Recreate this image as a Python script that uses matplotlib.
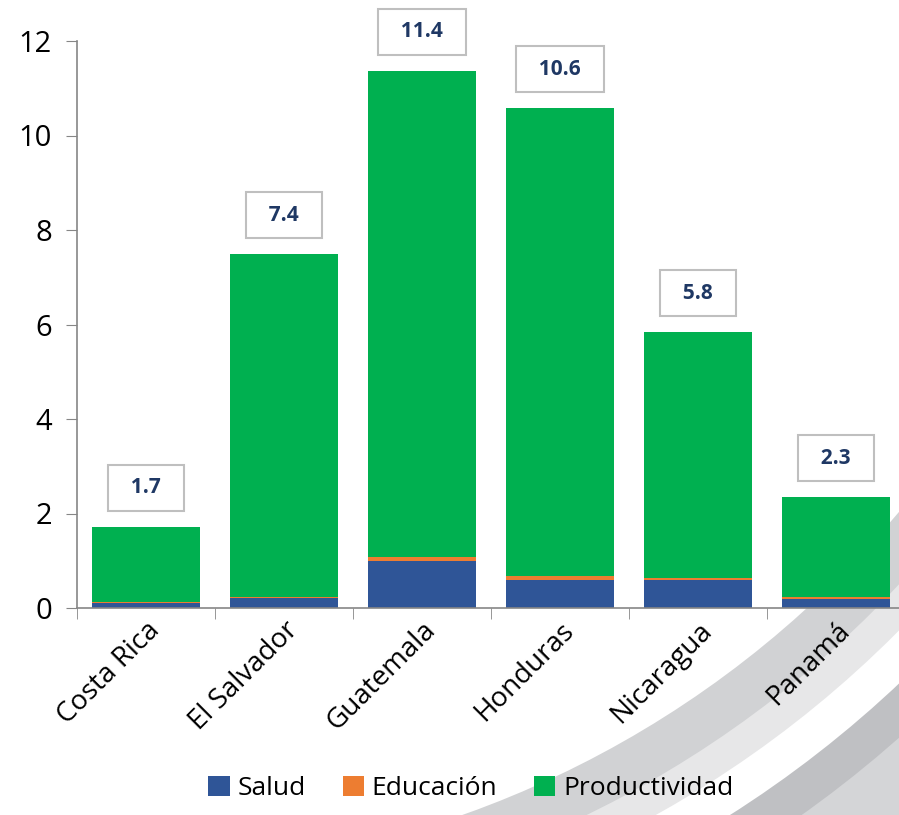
import matplotlib.pyplot as plt
from matplotlib.patches import Circle

# datos
paises = ["Costa Rica", "El Salvador", "Guatemala", "Honduras", "Nicaragua", "Panamá"]
salud = [0.10, 0.21, 1.00, 0.60, 0.60, 0.19]
educacion = [0.02, 0.02, 0.07, 0.07, 0.03, 0.04]
productividad = [1.60, 7.26, 10.30, 9.91, 5.21, 2.12]
etiquetas = ["1.7", "7.4", "11.4", "10.6", "5.8", "2.3"]

plt.rcParams['font.family'] = ['Open Sans', 'DejaVu Sans']

fig = plt.figure(figsize=(8.99, 8.15), dpi=100, facecolor="white")

# fondo decorativo (arcos grises abajo a la derecha)
bg = fig.add_axes([0, 0, 1, 1], zorder=-1)
bg.set_xlim(0, 899)
bg.set_ylim(815, 0)
bg.axis("off")
arcos = [(1400, "#D4D5D7"), (1168, "#BFC0C3"), (1128, "white"),
         (1090, "#E7E7E8"), (1058, "#D1D2D4"), (1010, "white")]
for i, (r, c) in enumerate(arcos):
    bg.add_patch(Circle((125, -137), r, color=c, lw=0, zorder=i))

ax = fig.add_axes([77 / 899, 207 / 815, 828 / 899, 567 / 815])
ax.set_facecolor("none")

x = range(len(paises))
ancho = 0.78
ax.bar(x, salud, ancho, color="#2F5597", label="Salud")
base = [s for s in salud]
ax.bar(x, educacion, ancho, bottom=base, color="#ED7D31", label="Educación")
base = [s + e for s, e in zip(salud, educacion)]
ax.bar(x, productividad, ancho, bottom=base, color="#00B050", label="Productividad")

totales = [b + p for b, p in zip(base, productividad)]
for i, t in enumerate(totales):
    ax.annotate("  " + etiquetas[i] + "  ", (i, t), xytext=(0, 28), textcoords="offset points",
                ha="center", va="center", fontsize=15, fontweight="bold", color="#1F3864",
                bbox=dict(boxstyle="square,pad=0.6", fc="white", ec="#BFBFBF", lw=1.5))

ax.set_xlim(-0.5, len(paises) - 0.5)
ax.set_ylim(0, 12)
ax.set_yticks([0, 2, 4, 6, 8, 10, 12])
ax.tick_params(axis="y", labelsize=21, length=8, color="#868686", direction="out", pad=10)

ax.set_xticks(list(x))
ax.set_xticklabels(paises, rotation=45, ha="right", rotation_mode="anchor", fontsize=20)
ax.set_xticks([i - 0.5 for i in range(len(paises) + 1)], minor=True)
ax.tick_params(axis="x", which="major", length=0, pad=6)
ax.tick_params(axis="x", which="minor", length=8, color="#868686")

for s in ["top", "right"]:
    ax.spines[s].set_visible(False)
for s in ["left", "bottom"]:
    ax.spines[s].set_color("#868686")
    ax.spines[s].set_linewidth(1.2)

fig.legend(loc="lower center", bbox_to_anchor=(471 / 899, -0.012), ncol=3, frameon=False,
           fontsize=19, handlelength=0.8, handleheight=0.8, handletextpad=0.3,
           columnspacing=1.4)

plt.savefig("out.png", dpi=100)
